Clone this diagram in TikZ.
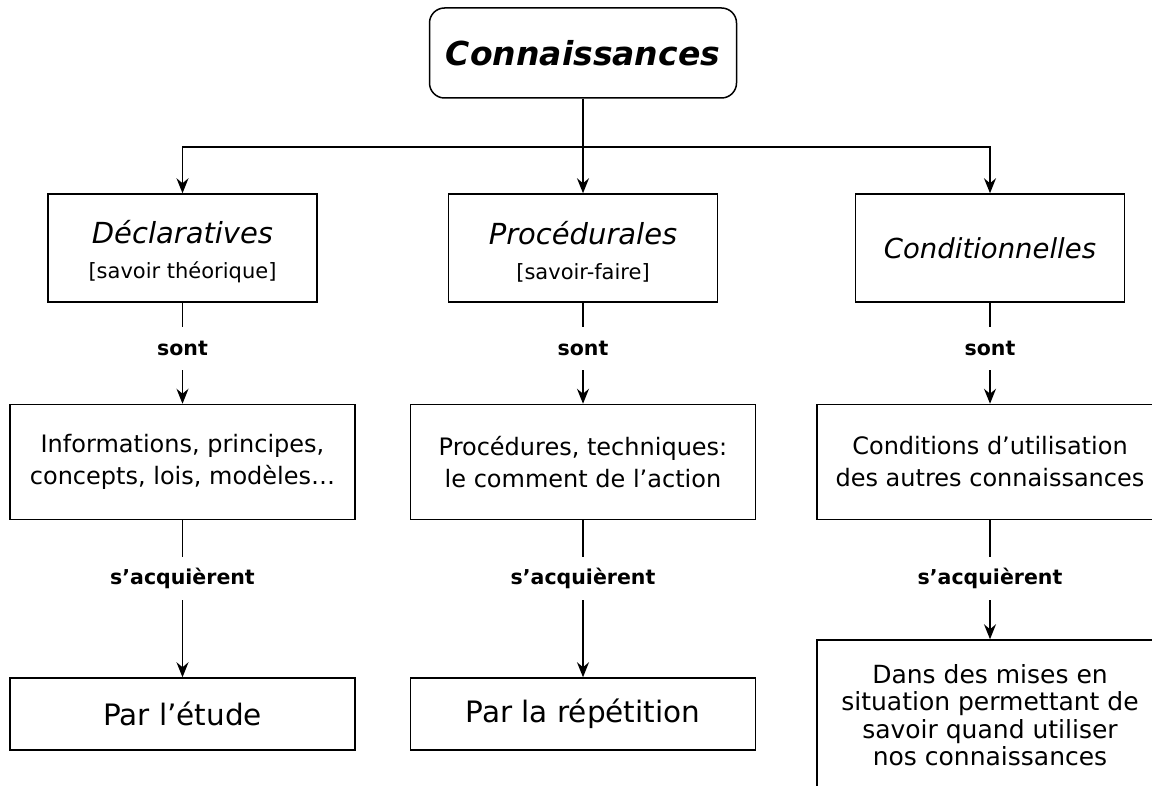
\documentclass[tikz,border=0pt]{standalone}
\usepackage{fontspec}
\setmainfont{DejaVu Sans}
\usetikzlibrary{arrows.meta}
\begin{document}
\begin{tikzpicture}[x=1pt,y=-1pt,
  box/.style={draw, line width=1.5pt, inner sep=0pt, align=center},
  lbl/.style={inner sep=0pt, minimum height=43pt, font=\fontsize{20.5}{24}\selectfont\bfseries},
  link/.style={line width=1.3pt},
  arr/.style={line width=1.3pt, -{Stealth[length=15pt,width=12pt,inset=5pt]}},
  lvlone/.style={box, minimum width=269pt, minimum height=108pt, font=\fontsize{29}{38}\selectfont},
  lvltwo/.style={box, minimum width=345pt, minimum height=115pt, font=\fontsize{24}{32}\selectfont},
  lvlthree/.style={box, minimum width=345pt, minimum height=72pt, font=\fontsize{29.5}{34}\selectfont}]
\useasboundingbox (0,0) rectangle (1152,786);
\clip (0,0) rectangle (1152,786);
\fill[white] (0,0) rectangle (1152,786);

\node[box, rounded corners=15pt, minimum width=307pt, minimum height=90pt,
      font=\fontsize{33}{40}\selectfont\bfseries\itshape] (top) at (583,53) {Connaissances};

\node[lvlone] (d1) at (182.5,248) {\rule{0pt}{31pt}\itshape Déclaratives\\[-3pt]{\fontsize{21}{24}\selectfont [savoir théorique]}};
\node[lvlone] (p1) at (583,248) {\rule{0pt}{31pt}\itshape Procédurales\\[-3pt]{\fontsize{21}{24}\selectfont [savoir-faire]}};
\node[lvlone, font=\fontsize{27.5}{34}\selectfont\itshape] (c1) at (990,248) {Conditionnelles};

\coordinate (hb) at (583,147);
\draw[link] (top.south) -- (hb);
\draw[arr] (hb) -| (d1.north);
\draw[arr] (hb) -- (p1.north);
\draw[arr] (hb) -| (c1.north);

\node[lbl] (s1) at (182.5,348.5) {sont};
\node[lbl] (s2) at (583,348.5) {sont};
\node[lbl] (s3) at (990,348.5) {sont};

\node[lvltwo] (d2) at (182.5,462) {Informations, principes,\\concepts, lois, modèles…};
\node[lvltwo] (p2) at (583,462) {Procédures, techniques:\\le comment de l’action};
\node[lvltwo, minimum width=346pt] (c2) at (990,462) {Conditions d’utilisation\\des autres connaissances};

\draw[link] (d1.south) -- (s1.north);
\draw[arr] (s1.south) -- (d2.north);
\draw[link] (p1.south) -- (s2.north);
\draw[arr] (s2.south) -- (p2.north);
\draw[link] (c1.south) -- (s3.north);
\draw[arr] (s3.south) -- (c2.north);

\node[lbl] (a1) at (182.5,578.5) {s’acquièrent};
\node[lbl] (a2) at (583,578.5) {s’acquièrent};
\node[lbl] (a3) at (990,578.5) {s’acquièrent};

\node[lvlthree] (d3) at (182.5,714) {Par l’étude};
\node[lvlthree] (p3) at (583,714) {Par la répétition};
\node[box, minimum width=346pt, minimum height=150pt, font=\fontsize{25}{27.5}\selectfont] (c3) at (990,715)
  {Dans des mises en\\situation permettant de\\savoir quand utiliser\\nos connaissances};

\draw[link] (d2.south) -- (a1.north);
\draw[arr] (a1.south) -- (d3.north);
\draw[link] (p2.south) -- (a2.north);
\draw[arr] (a2.south) -- (p3.north);
\draw[link] (c2.south) -- (a3.north);
\draw[arr] (a3.south) -- (c3.north);
\end{tikzpicture}
\end{document}
